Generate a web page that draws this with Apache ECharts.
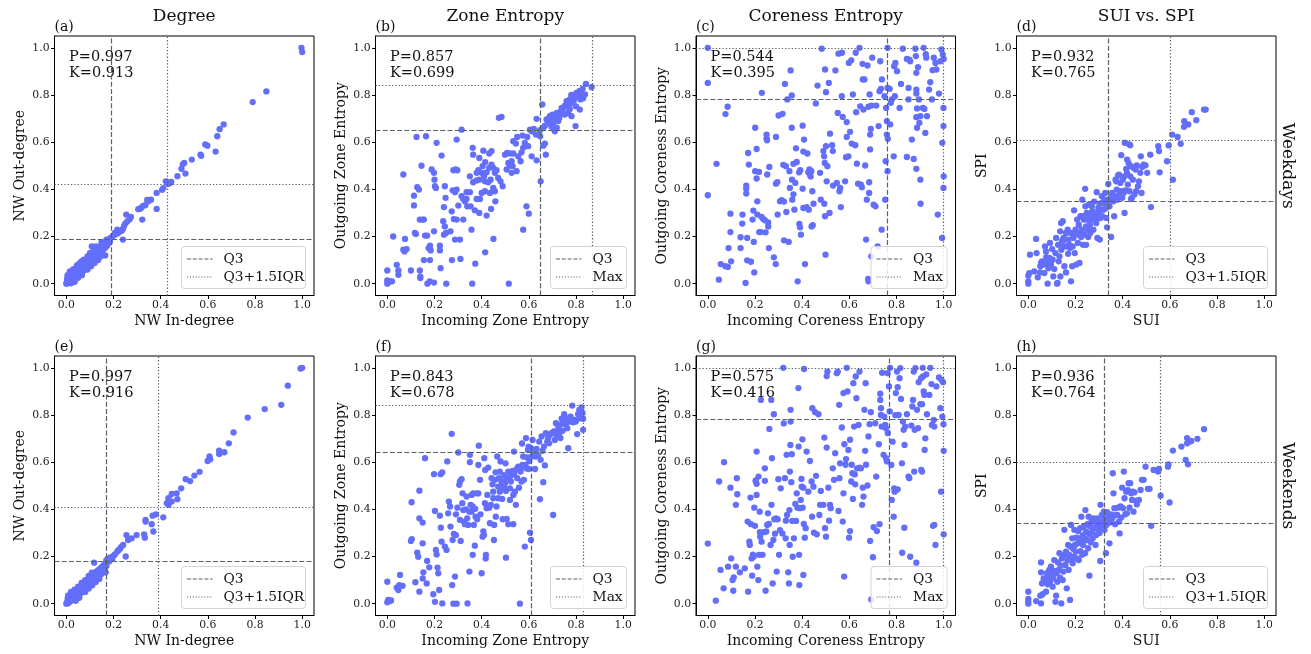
<!DOCTYPE html>
<html>
<head>
<meta charset="utf-8">
<script src="https://cdn.jsdelivr.net/npm/echarts@6/dist/echarts.min.js"></script>
<style>
html,body{margin:0;padding:0;background:#fff;}
#chart{width:1311px;height:654px;}
</style>
</head>
<body>
<div id="chart"></div>
<script>
// ---------------- DATA ----------------
const columnTitles = ['Degree', 'Zone Entropy', 'Coreness Entropy', 'SUI vs. SPI'];
const rowTitles = ['Weekdays', 'Weekends'];
const panelLabels = ['(a)', '(b)', '(c)', '(d)', '(e)', '(f)', '(g)', '(h)'];
const xNames = ['NW In-degree', 'Incoming Zone Entropy', 'Incoming Coreness Entropy', 'SUI'];
const yNames = ['NW Out-degree', 'Outgoing Zone Entropy', 'Outgoing Coreness Entropy', 'SPI'];
const pearsonP = ['0.997', '0.857', '0.544', '0.932', '0.997', '0.843', '0.575', '0.936'];
const kendallK = ['0.913', '0.699', '0.395', '0.765', '0.916', '0.678', '0.416', '0.764'];
const q3X = [0.187, 0.650, 0.761, 0.339, 0.167, 0.613, 0.772, 0.320];
const q3Y = [0.186, 0.646, 0.782, 0.349, 0.180, 0.638, 0.784, 0.335];
const upperX = [0.432, 0.869, 1.0, 0.603, 0.386, 0.832, 1.0, 0.564];
const upperY = [0.423, 0.844, 1.0, 0.615, 0.4145, 0.840, 1.0, 0.602];
const upperLabels = ['Q3+1.5IQR', 'Max', 'Max', 'Q3+1.5IQR', 'Q3+1.5IQR', 'Max', 'Max', 'Q3+1.5IQR'];
const q3Label = 'Q3';
const tickValues = [0, 0.2, 0.4, 0.6, 0.8, 1.0];

const degreeWeekdays = [
[0.997,1.0],[1.0,0.982],[0.848,0.815],[0.79,0.77],[0.667,0.675],[0.65,0.655],[0.64,0.625],[0.633,0.56],[0.589,0.59],[0.598,0.585],
[0.569,0.547],[0.572,0.542],[0.532,0.526],[0.50,0.512],[0.494,0.506],[0.488,0.487],[0.505,0.467],[0.471,0.456],[0.445,0.432],[0.44,0.427],
[0.432,0.423],[0.422,0.434],[0.427,0.43],[0.411,0.405],[0.406,0.398],[0.383,0.385],[0.383,0.317],[0.359,0.356],[0.348,0.349],[0.343,0.355],
[0.335,0.333],[0.326,0.33],[0.318,0.322],[0.312,0.317],[0.305,0.316],[0.322,0.272],[0.274,0.283],[0.268,0.272],[0.254,0.293],[0.258,0.264],
[0.25,0.255],[0.245,0.245],[0.24,0.232],[0.235,0.225],[0.24,0.187],[0.228,0.222],[0.22,0.215],[0.216,0.229],[0.21,0.21],[0.206,0.215],
[0.2,0.205],[0.196,0.2],[0.19,0.195],[0.184,0.19],[0.178,0.185],[0.17,0.187],[0.165,0.12],[0.149,0.175],[0.16,0.17],[0.155,0.16],[0.108,0.158],
[0,0],[0.002,0.006],[0.004,0.002],[0.006,0.012],[0.003,0.018],[0.008,0.004],[0.01,0.009],[0.012,0.02],[0.007,0.03],[0.014,0.012],
[0.016,0.006],[0.018,0.025],[0.02,0.016],[0.012,0.04],[0.022,0.01],[0.024,0.03],[0.026,0.02],[0.028,0.014],[0.03,0.038],[0.032,0.026],
[0.034,0.018],[0.02,0.045],[0.036,0.044],[0.038,0.032],[0.04,0.024],[0.042,0.05],[0.044,0.036],[0.046,0.028],[0.048,0.058],[0.05,0.044],
[0.052,0.034],[0.054,0.062],[0.056,0.05],[0.058,0.04],[0.06,0.07],[0.062,0.056],[0.064,0.046],[0.066,0.08],[0.068,0.062],[0.07,0.052],
[0.055,0.085],[0.072,0.072],[0.074,0.058],[0.076,0.088],[0.078,0.068],[0.08,0.06],[0.082,0.094],[0.084,0.076],[0.086,0.066],[0.088,0.1],
[0.09,0.082],[0.092,0.072],[0.094,0.105],[0.096,0.088],[0.098,0.078],[0.1,0.112],[0.102,0.095],[0.104,0.085],[0.106,0.12],[0.108,0.1],
[0.11,0.09],[0.113,0.125],[0.116,0.108],[0.118,0.098],[0.12,0.135],[0.123,0.115],[0.126,0.105],[0.128,0.14],[0.13,0.122],[0.133,0.112],
[0.136,0.148],[0.138,0.13],[0.14,0.12],[0.143,0.155],[0.146,0.138],[0.15,0.128],[0.153,0.16],[0.156,0.145],[0.16,0.165],[0.163,0.15],
[0.167,0.172],[0.172,0.16],[0.176,0.18],[0.18,0.172],[0.185,0.178],
[0.005,0.035],[0.015,0.052],[0.03,0.062],[0.045,0.078],[0.062,0.092],[0.075,0.102],[0.09,0.116],[0.1,0.13],[0.116,0.142],[0.126,0.158],
[0.09,0.06],[0.105,0.074],[0.12,0.088],[0.135,0.1],[0.05,0.025],[0.066,0.036],[0.02,0.002],[0.036,0.008],[0.145,0.115],[0.07,0.098]
];

const zoneWeekdays = [
[0,0],[0.004,0.006],[0.011,0.01],[0.02,0.01],[0,0.014],[0.17,0],[0.18,0.01],[0.198,0.005],[0.25,0],[0.36,0],[0.515,0],
[0,0.056],[0.047,0.056],[0.047,0.038],[0.04,0.08],[0.1,0.056],[0.138,0.056],[0.14,0.03],[0.14,0.024],[0.226,0.066],[0.274,0.1],
[0.31,0.105],[0.373,0.085],[0.415,0.133],[0.45,0.19],[0.155,0.1],[0.181,0.1],[0.181,0.161],[0.175,0.151],[0.184,0.141],[0.223,0.141],
[0.073,0.137],[0.068,0.144],[0.082,0.147],[0.075,0.19],[0.025,0.2],[0.117,0.215],[0.121,0.211],[0.16,0.204],[0.169,0.204],[0.198,0.222],
[0.223,0.161],[0.24,0.208],[0.249,0.215],[0.268,0.222],[0.287,0.187],[0.308,0.187],[0.357,0.229],[0.576,0.229],[0.59,0.328],[0.6,0.297],
[0.458,0.349],[0.44,0.317],
[0.113,0.373],[0.113,0.332],[0.134,0.399],[0.138,0.272],[0.15,0.272],[0.155,0.272],[0.127,0.409],[0.068,0.463],[0.145,0.5],[0.164,0.625],
[0.124,0.622],[0.209,0.597],[0.188,0.484],[0.198,0.47],[0.2,0.441],[0.202,0.413],[0.206,0.406],[0.23,0.543],[0.244,0.413],[0.247,0.364],
[0.24,0.325],[0.237,0.265],[0.244,0.243],[0.28,0.481],[0.29,0.484],[0.297,0.481],[0.294,0.611],[0.315,0.653],[0.277,0.396],[0.287,0.388],
[0.294,0.399],[0.301,0.331],[0.273,0.307],[0.282,0.274],[0.294,0.272],[0.322,0.272],[0.315,0.371],[0.322,0.359],[0.329,0.349],[0.336,0.359],
[0.336,0.388],[0.35,0.388],[0.353,0.328],[0.339,0.328],[0.35,0.455],[0.362,0.576],[0.364,0.547],[0.379,0.47],[0.386,0.481],[0.379,0.438],
[0.364,0.43],[0.39,0.441],[0.4,0.47],[0.404,0.498],[0.407,0.564],[0.39,0.533],[0.41,0.455],[0.414,0.434],[0.421,0.472],[0.432,0.491],
[0.442,0.505],[0.449,0.491],[0.456,0.47],[0.463,0.481],[0.428,0.43],[0.438,0.441],[0.449,0.406],[0.456,0.392],[0.435,0.385],[0.414,0.392],
[0.4,0.385],[0.393,0.359],[0.379,0.359],[0.371,0.311],[0.39,0.3],[0.421,0.289],[0.442,0.562],[0.432,0.552],[0.415,0.515],[0.47,0.448],
[0.48,0.434],[0.489,0.413],[0.473,0.703],[0.484,0.707],
[0.499,0.547],[0.508,0.554],[0.52,0.552],[0.534,0.552],[0.513,0.512],[0.527,0.519],[0.531,0.498],[0.52,0.501],[0.506,0.484],[0.527,0.47],
[0.548,0.477],[0.565,0.519],[0.555,0.54],[0.569,0.557],[0.576,0.576],[0.545,0.594],[0.534,0.604],[0.551,0.622],[0.573,0.628],[0.583,0.597],
[0.597,0.583],[0.612,0.54],[0.633,0.523],[0.65,0.434],[0.672,0.547],[0.661,0.585],[0.668,0.594],[0.612,0.646],[0.605,0.653],[0.621,0.656],
[0.593,0.622],[0.633,0.699],[0.63,0.632],[0.648,0.625],[0.657,0.76],
[0.675,0.696],[0.689,0.71],[0.682,0.682],[0.703,0.679],[0.696,0.665],[0.718,0.661],[0.71,0.646],[0.732,0.724],[0.743,0.738],[0.753,0.717],
[0.763,0.75],[0.774,0.741],[0.782,0.767],[0.8,0.752],[0.81,0.795],[0.819,0.781],[0.797,0.795],[0.785,0.784],[0.802,0.809],[0.814,0.816],
[0.828,0.826],[0.842,0.847],[0.866,0.833],[0.838,0.802],[0.83,0.786],[0.816,0.738],[0.798,0.668],[0.746,0.721],[0.729,0.703],[0.767,0.724],
[0.781,0.71],[0.753,0.755],[0.739,0.745],[0.718,0.724],[0.7,0.717],[0.689,0.689],[0.668,0.67],[0.661,0.661],[0.647,0.651],[0.76,0.774],
[0.774,0.781],[0.79,0.774],[0.823,0.806],[0.806,0.79],[0.77,0.76],[0.735,0.73],[0.71,0.7],[0.725,0.69],[0.795,0.8],[0.78,0.8]
];

const corenessWeekdays = [
[0,1.0],[0,0.851],[0,0.375],[0.037,0.508],[0.047,0.017],[0.055,0.083],[0.074,0.074],[0.085,0.071],[0.075,0.719],[0.084,0.75],
[0.088,0.151],[0.096,0.219],[0.096,0.297],[0.099,0.095],[0.139,0.197],[0.139,0.151],[0.147,0.293],[0.146,0.255],[0.16,0.003],[0.163,0.416],
[0.163,0.403],[0.163,0.382],[0.167,0.194],[0.167,0.099],[0.171,0.554],[0.174,0.505],[0.183,0.093],[0.19,0.272],[0.193,0.31],[0.195,0.177],
[0.197,0.048],[0.201,0.661],[0.201,0.477],[0.207,0.571],[0.207,0.446],[0.21,0.349],[0.21,0.293],[0.217,0.474],[0.218,0.219],[0.225,0.219],
[0.228,0.283],[0.229,0.809],[0.235,0.274],[0.242,0.269],[0.245,0.218],[0.249,0.632],[0.249,0.615],[0.251,0.608],[0.252,0.463],[0.256,0.26],
[0.256,0.243],[0.259,0.151],[0.261,0.495],[0.28,0.112],[0.288,0.083],[0.289,0.424],[0.289,0.622],[0.3,0.713],[0.295,0.431],[0.296,0.293],
[0.306,0.349],[0.313,0.354],[0.317,0.72],[0.32,0.504],[0.323,0.348],[0.323,0.184],[0.327,0.847],[0.331,0.498],[0.333,0.304],[0.337,0.781],
[0.343,0.177],[0.346,0.477],[0.348,0.406],[0.351,0.904],[0.356,0.798],[0.356,0.661],[0.357,0.441],[0.358,0.356],[0.363,0.508],[0.363,0.379],
[0.367,0.314],[0.371,0.427],[0.374,0.574],[0.377,0.516],[0.387,0.472],[0.388,0.253],[0.391,0.239],[0.392,0.481],[0.381,0.01],[0.395,0.208],
[0.402,0.67],[0.402,0.403],[0.405,0.56],[0.405,0.321],[0.408,0.611],[0.412,0.083],[0.419,0.325],[0.422,0.552],[0.426,0.472],[0.428,0.314],
[0.431,0.484],[0.433,0.463],[0.436,0.454],[0.439,0.477],[0.44,0.243],[0.445,0.248],[0.443,0.392],[0.448,0.339],[0.458,0.764],[0.465,0.84],
[0.476,0.47],[0.479,0.356],[0.483,0.996],[0.49,0.562],[0.493,0.54],[0.496,0.512],[0.494,0.339],[0.497,0.908],[0.497,0.286],[0.499,0.123],
[0.501,0.583],[0.501,0.812],[0.504,0.434],[0.507,0.498],[0.513,0.851],[0.516,0.3],[0.518,0.636],[0.527,0.587],[0.53,0.562],[0.531,0.416],
[0.541,0.904],[0.547,0.427],[0.551,0.724],[0.554,0.975],[0.558,0.392],[0.561,0.406],[0.564,0.325],[0.569,0.979],[0.568,0.795],[0.572,0.707],
[0.582,0.434],[0.586,0.536],[0.589,0.685],[0.589,0.622],[0.596,0.54],[0.598,0.936],[0.603,0.644],[0.608,0.947],[0.61,0.594],[0.615,0.802],
[0.625,0.587],[0.627,0.979],[0.629,0.727],[0.632,0.509],[0.637,0.424],[0.643,1.0],[0.646,0.752],[0.649,0.42],[0.653,0.409],[0.656,0.932],
[0.657,0.866],[0.66,0.738],[0.664,0.866],[0.667,0.501],[0.671,0.187],[0.674,0.356],[0.677,0.925],[0.681,0.75],[0.681,0.01],[0.68,0.02],
[0.684,0.43],[0.684,0.385],[0.686,0.802],[0.688,0.569],[0.688,0.632],[0.691,0.656],[0.693,0.116],[0.694,0.755],[0.697,0.958],[0.703,0.335],
[0.711,0.328],[0.714,0.755],[0.72,0.158],[0.724,0.668],[0.728,0.816],[0.731,0.943],[0.734,0.826],[0.737,0.229],[0.738,0.866],[0.749,0.795],
[0.752,0.356],[0.754,0.519],[0.756,0.745],[0.759,0.689],[0.759,0.632],[0.763,0.614],[0.762,0.477],[0.762,0.83],[0.762,1.0],[0.771,0.826],
[0.773,0.675],[0.776,0.767],[0.78,0.781],[0.788,0.54],[0.79,0.922],[0.793,0.795],[0.795,0.936],[0.802,0.901],[0.813,0.745],[0.819,0.847],
[0.827,0.996],[0.844,0.537],[0.844,0.953],[0.851,0.83],[0.854,0.95],[0.851,0.781],[0.858,0.943],[0.865,0.611],[0.873,0.529],[0.88,0.996],
[0.882,0.965],[0.884,0.894],[0.884,0.823],[0.884,0.806],[0.884,0.706],[0.887,0.661],[0.884,0.487],[0.887,0.743],[0.891,0.918],[0.895,0.781],
[0.897,0.682],[0.901,0.71],[0.901,0.441],[0.902,0.339],[0.912,0.745],[0.915,1.0],[0.918,0.741],[0.922,0.639],[0.924,0.973],[0.926,0.958],
[0.929,0.71],[0.938,0.823],[0.943,0.854],[0.95,0.781],[0.953,0.905],[0.958,0.958],[0.965,0.936],[0.969,0.908],[0.975,0.293],[0.98,0.806],
[0.986,0.943],[0.99,0.993],[0.993,0.194],[0.994,0.597],[0.996,0.972],[0.999,0.745],[0.999,0.668],[1.0,0.455],[0.999,0.406],[1.0,0.953]
];

const suiSpiWeekdays = [
[0,0],[0,0.01],[0,0.034],[0.004,0.045],[0.007,0.123],[0.025,0.052],[0.033,0.19],[0.04,0.027],[0.035,0.13],[0.05,0.048],
[0.051,0.074],[0.054,0.088],[0.058,0.095],[0.064,0.081],[0.068,0.045],[0.071,0.158],[0.075,0.137],[0.076,0.113],[0.079,0.088],[0.082,0.0],
[0.085,0.066],[0.089,0.109],[0.092,0.173],[0.096,0.081],[0.101,0.147],[0.103,0.102],[0.106,0.031],[0.11,0.062],[0.115,0.13],[0.118,0.194],
[0.122,0.0],[0.124,0.003],[0.126,0.165],[0.129,0.095],[0.132,0.116],[0.135,0.222],[0.136,0.031],[0.139,0.257],[0.14,0.144],[0.143,0.18],
[0.146,0.265],[0.149,0.194],[0.15,0.158],[0.153,0.074],[0.157,0.187],[0.16,0.048],[0.16,0.215],[0.163,0.158],[0.167,0.229],[0.169,0.127],
[0.171,0.187],[0.174,0.165],[0.177,0.151],[0.18,0.215],[0.181,0.01],[0.186,0.074],[0.188,0.158],[0.191,0.194],[0.194,0.311],[0.197,0.13],
[0.2,0.229],[0.203,0.208],[0.204,0.081],[0.207,0.272],[0.21,0.173],[0.214,0.25],[0.217,0.088],[0.22,0.215],[0.221,0.286],[0.224,0.198],
[0.227,0.229],[0.229,0.356],[0.231,0.286],[0.232,0.165],[0.235,0.272],[0.238,0.208],[0.241,0.402],[0.242,0.328],[0.245,0.243],[0.245,0.165],
[0.248,0.3],[0.249,0.272],[0.252,0.229],[0.254,0.198],[0.256,0.335],[0.259,0.286],[0.261,0.25],[0.263,0.215],[0.266,0.3],[0.269,0.328],
[0.271,0.272],[0.273,0.307],[0.276,0.229],[0.279,0.348],[0.282,0.279],[0.285,0.293],[0.288,0.257],[0.29,0.388],[0.293,0.194],[0.295,0.3],
[0.297,0.321],[0.299,0.279],[0.302,0.339],[0.303,0.187],[0.305,0.278],[0.309,0.314],[0.312,0.371],[0.313,0.286],[0.316,0.345],[0.319,0.314],
[0.322,0.356],[0.323,0.339],[0.326,0.385],[0.329,0.321],[0.33,0.279],[0.334,0.239],[0.337,0.339],[0.339,0.423],[0.34,0.356],[0.344,0.328],
[0.348,0.364],[0.351,0.198],[0.354,0.371],[0.356,0.385],[0.358,0.362],[0.361,0.349],[0.364,0.286],[0.367,0.371],[0.37,0.441],[0.373,0.434],
[0.375,0.399],[0.377,0.356],[0.38,0.458],[0.384,0.462],[0.387,0.378],[0.39,0.427],[0.394,0.545],[0.394,0.392],[0.398,0.364],[0.401,0.441],
[0.404,0.385],[0.407,0.455],[0.408,0.3],[0.411,0.597],[0.412,0.395],[0.415,0.487],[0.418,0.47],[0.419,0.526],[0.422,0.42],[0.425,0.512],
[0.428,0.59],[0.429,0.392],[0.432,0.455],[0.435,0.498],[0.436,0.359],[0.439,0.364],[0.443,0.441],[0.446,0.491],[0.45,0.378],[0.455,0.484],
[0.457,0.392],[0.46,0.502],[0.465,0.413],[0.469,0.434],[0.475,0.47],[0.477,0.54],[0.48,0.385],[0.483,0.495],[0.489,0.505],[0.497,0.502],
[0.504,0.47],[0.517,0.547],[0.52,0.325],[0.551,0.583],[0.554,0.562],[0.557,0.472],[0.588,0.519],[0.595,0.586],[0.61,0.632],[0.613,0.441],
[0.633,0.622],[0.646,0.593],[0.66,0.665],[0.661,0.689],[0.678,0.675],[0.693,0.727],[0.712,0.693],[0.745,0.738],[0.752,0.738],[0.409,0.597],
[0.432,0.587]
];

const degreeWeekends = [
[0.993,0.997],[1.0,1.0],[0.939,0.924],[0.911,0.843],[0.841,0.825],[0.769,0.789],[0.709,0.726],[0.689,0.68],[0.67,0.642],[0.648,0.649],
[0.648,0.635],[0.607,0.624],[0.61,0.612],[0.599,0.605],[0.565,0.559],[0.543,0.543],[0.525,0.52],[0.506,0.528],[0.487,0.489],[0.468,0.468],
[0.447,0.465],[0.471,0.443],[0.433,0.447],[0.426,0.426],[0.433,0.419],[0.447,0.433],[0.411,0.366],[0.38,0.379],[0.366,0.373],[0.369,0.306],
[0.362,0.337],[0.336,0.355],[0.336,0.348],[0.33,0.294],[0.333,0.28],[0.298,0.291],[0.277,0.277],[0.255,0.291],[0.262,0.27],[0.252,0.2],
[0.241,0.249],[0.227,0.232],[0.216,0.221],[0.206,0.209],[0.199,0.202],[0.189,0.197],[0.177,0.192],[0.17,0.185],[0.167,0.133],[0.118,0.174],
[0.232,0.24],[0.22,0.226],[0.195,0.19],[0.183,0.18],
[0,0],[0.003,0.004],[0.005,0.01],[0.008,0.002],[0.01,0.015],[0.006,0.022],[0.012,0.006],[0.015,0.018],[0.018,0.01],[0.02,0.026],
[0.022,0.015],[0.014,0.032],[0.025,0.02],[0.027,0.034],[0.03,0.024],[0.032,0.016],[0.034,0.04],[0.036,0.03],[0.038,0.022],[0.025,0.045],
[0.04,0.048],[0.042,0.035],[0.044,0.028],[0.046,0.055],[0.048,0.042],[0.05,0.034],[0.052,0.06],[0.054,0.048],[0.056,0.04],[0.058,0.068],
[0.06,0.054],[0.062,0.045],[0.064,0.075],[0.066,0.06],[0.068,0.05],[0.07,0.082],[0.072,0.066],[0.074,0.056],[0.076,0.09],[0.078,0.072],
[0.08,0.062],[0.082,0.096],[0.084,0.078],[0.086,0.068],[0.088,0.1],[0.09,0.085],[0.093,0.075],[0.095,0.108],[0.098,0.09],[0.1,0.08],
[0.103,0.115],[0.106,0.097],[0.108,0.088],[0.11,0.122],[0.113,0.104],[0.116,0.095],[0.118,0.128],[0.121,0.112],[0.124,0.102],[0.126,0.135],
[0.129,0.118],[0.132,0.11],[0.135,0.142],[0.138,0.126],[0.141,0.118],[0.144,0.15],[0.147,0.134],[0.15,0.127],[0.153,0.158],[0.156,0.142],
[0.16,0.165],[0.163,0.15],[0.166,0.172],[0.17,0.16],
[0.008,0.035],[0.02,0.05],[0.035,0.06],[0.05,0.072],[0.065,0.088],[0.08,0.1],[0.095,0.118],[0.108,0.132],[0.08,0.05],[0.095,0.064],
[0.11,0.078],[0.04,0.012],[0.055,0.025],[0.125,0.092],[0.14,0.105]
];

const zoneWeekends = [
[0,0.006],[0.004,0.016],[0.011,0.011],[0,0.093],[0.016,0.014],[0.04,0.068],[0.047,0.058],[0.054,0.122],[0.065,0.076],[0.051,0.079],
[0.1,0.266],[0.103,0.43],[0.104,0.274],[0.119,0.091],[0.127,0.216],[0.131,0.199],[0.136,0.362],[0.136,0.479],[0.136,0.051],[0.15,0.344],
[0.15,0.256],[0.15,0.107],[0.153,0.133],[0.16,0.617],[0.167,0.086],[0.169,0.181],[0.178,0.154],[0.195,0.04],[0.198,0.549],[0.202,0.393],
[0.202,0.008],[0.206,0.228],[0.209,0.209],[0.213,0.153],[0.216,0.129],[0.22,0.058],[0.223,0.373],[0.226,0.549],[0.227,0.322],[0.23,0.263],
[0.233,0.001],[0.233,0.557],[0.244,0.242],[0.251,0.228],[0.254,0.603],[0.258,0.383],[0.261,0.433],[0.266,0.412],[0.268,0.327],[0.273,0.72],
[0.275,0.079],[0.277,0.27],[0.28,0.0],[0.282,0.296],[0.287,0.115],[0.291,0.291],[0.291,0.379],[0.294,0.0],[0.297,0.407],[0.301,0.641],
[0.305,0.504],[0.308,0.518],[0.308,0.355],[0.311,0.266],[0.315,0.528],[0.318,0.426],[0.319,0.468],[0.322,0.397],[0.325,0.348],[0.329,0.337],
[0.333,0.4],[0.336,0.454],[0.339,0.362],[0.34,0.001],[0.343,0.334],[0.348,0.136],[0.348,0.39],[0.35,0.631],[0.35,0.6],[0.353,0.419],
[0.357,0.39],[0.357,0.461],[0.362,0.412],[0.362,0.207],[0.364,0.468],[0.367,0.334],[0.371,0.246],[0.373,0.402],[0.374,0.369],[0.379,0.468],
[0.381,0.358],[0.386,0.468],[0.386,0.588],[0.388,0.67],[0.393,0.525],[0.395,0.379],[0.4,0.129],[0.404,0.284],[0.407,0.306],[0.41,0.291],
[0.411,0.617],[0.414,0.426],[0.415,0.567],[0.417,0.192],[0.418,0.207],[0.421,0.405],[0.424,0.461],[0.428,0.577],[0.432,0.407],[0.435,0.341],
[0.439,0.419],[0.442,0.532],[0.446,0.506],[0.449,0.475],[0.449,0.447],[0.452,0.27],[0.453,0.334],[0.456,0.525],[0.459,0.557],[0.46,0.369],
[0.463,0.412],[0.466,0.624],[0.47,0.496],[0.47,0.447],[0.473,0.532],[0.477,0.56],[0.477,0.475],[0.48,0.603],[0.482,0.496],[0.484,0.518],
[0.487,0.444],[0.489,0.358],[0.492,0.518],[0.494,0.545],[0.497,0.489],[0.499,0.511],[0.501,0.595],[0.503,0.478],[0.503,0.195],[0.506,0.359],
[0.508,0.535],[0.513,0.56],[0.513,0.337],[0.516,0.532],[0.52,0.44],[0.52,0.489],[0.524,0.518],[0.527,0.546],[0.531,0.563],[0.534,0.337],
[0.534,0.461],[0.537,0.645],[0.538,0.549],[0.541,0.475],[0.545,0.419],[0.548,0.57],[0.551,0.532],[0.552,0.574],[0.555,0.581],[0.558,0.492],
[0.562,0.0],[0.562,0.574],[0.565,0.56],[0.569,0.518],[0.571,0.679],[0.573,0.588],[0.576,0.624],[0.579,0.525],[0.583,0.242],[0.586,0.588],
[0.588,0.702],[0.589,0.574],[0.593,0.62],[0.596,0.652],[0.599,0.666],[0.599,0.571],[0.602,0.605],[0.605,0.301],[0.609,0.27],[0.609,0.659],
[0.612,0.624],[0.616,0.694],[0.619,0.645],[0.626,0.571],[0.629,0.624],[0.633,0.656],[0.64,0.628],[0.644,0.687],[0.647,0.443],[0.65,0.61],
[0.654,0.709],[0.658,0.648],[0.661,0.515],[0.664,0.666],[0.668,0.586],[0.672,0.723],[0.678,0.687],[0.682,0.702],[0.686,0.68],[0.689,0.716],
[0.696,0.723],[0.703,0.376],[0.706,0.73],[0.71,0.694],[0.715,0.765],[0.718,0.709],[0.725,0.744],[0.729,0.723],[0.732,0.758],[0.734,0.702],
[0.739,0.784],[0.743,0.733],[0.746,0.769],[0.75,0.803],[0.754,0.779],[0.757,0.758],[0.763,0.744],[0.767,0.659],[0.77,0.786],[0.774,0.772],
[0.777,0.793],[0.784,0.84],[0.788,0.769],[0.795,0.779],[0.799,0.772],[0.805,0.719],[0.809,0.803],[0.814,0.822],[0.816,0.786],[0.819,0.812],
[0.823,0.832],[0.828,0.808],[0.83,0.784],[0.83,0.737]
];

const corenessWeekends = [
[0,0.255],[0.034,0.013],[0.048,0.518],[0.054,0.143],[0.067,0.065],[0.069,0.6],[0.086,0.157],[0.096,0.492],[0.099,0.192],[0.105,0.1],
[0.108,0.055],[0.11,0.112],[0.119,0.157],[0.119,0.419],[0.123,0.532],[0.125,0.464],[0.136,0.133],[0.157,0.15],[0.169,0.348],[0.171,0.051],
[0.176,0.263],[0.178,0.249],[0.181,0.45],[0.183,0.337],[0.186,0.192],[0.188,0.119],[0.191,0.208],[0.194,0.199],[0.197,0.407],[0.2,0.33],
[0.203,0.523],[0.204,0.518],[0.207,0.508],[0.207,0.461],[0.207,0.645],[0.21,0.157],[0.214,0.1],[0.215,0.539],[0.217,0.207],[0.22,0.39],
[0.221,0.303],[0.222,0.284],[0.225,0.864],[0.228,0.263],[0.232,0.207],[0.238,0.303],[0.242,0.574],[0.242,0.521],[0.245,0.055],[0.248,0.306],
[0.252,0.334],[0.255,0.383],[0.259,0.338],[0.261,0.741],[0.266,0.249],[0.269,0.864],[0.27,0.419],[0.272,0.617],[0.275,0.086],[0.278,0.27],
[0.28,0.803],[0.282,0.358],[0.285,0.297],[0.289,0.362],[0.292,0.136],[0.296,0.358],[0.299,0.528],[0.302,0.207],[0.306,0.312],[0.309,0.489],
[0.316,0.298],[0.32,1.0],[0.322,0.764],[0.327,0.532],[0.33,0.277],[0.331,0.352],[0.334,0.631],[0.336,0.376],[0.341,0.133],[0.344,0.086],
[0.346,0.397],[0.347,0.249],[0.348,0.56],[0.35,0.673],[0.351,0.772],[0.351,0.822],[0.354,0.515],[0.356,0.634],[0.358,0.351],[0.36,0.199],
[0.365,0.277],[0.371,0.423],[0.374,0.351],[0.377,0.468],[0.38,0.407],[0.384,0.914],[0.385,0.666],[0.387,0.207],[0.388,0.079],[0.391,0.405],
[0.394,0.44],[0.397,0.529],[0.398,0.496],[0.401,0.697],[0.402,0.407],[0.405,0.492],[0.405,0.122],[0.407,0.338],[0.408,0.995],[0.411,0.28],
[0.415,0.32],[0.419,0.645],[0.426,0.475],[0.433,0.605],[0.44,0.518],[0.442,0.369],[0.443,0.829],[0.448,0.496],[0.45,0.301],[0.455,0.812],
[0.459,0.542],[0.462,0.294],[0.469,0.803],[0.473,0.376],[0.476,0.419],[0.479,0.478],[0.49,0.419],[0.494,0.704],[0.497,0.32],[0.501,0.284],
[0.504,0.662],[0.504,0.965],[0.507,0.984],[0.511,0.492],[0.514,0.352],[0.518,0.419],[0.521,0.405],[0.53,0.574],[0.535,0.525],[0.54,0.638],
[0.547,0.977],[0.551,0.984],[0.554,0.393],[0.558,0.532],[0.557,0.843],[0.561,0.595],[0.568,0.747],[0.572,0.348],[0.575,0.468],[0.575,0.893],
[0.578,0.115],[0.579,0.676],[0.584,0.589],[0.586,0.613],[0.589,1.0],[0.592,0.9],[0.596,0.652],[0.599,0.28],[0.603,0.308],[0.603,0.695],
[0.608,0.518],[0.61,0.589],[0.613,0.553],[0.615,0.444],[0.617,0.935],[0.62,0.751],[0.623,0.548],[0.625,0.506],[0.627,0.963],[0.63,0.871],
[0.633,0.574],[0.639,0.758],[0.643,0.984],[0.644,0.577],[0.649,0.574],[0.654,0.419],[0.657,0.492],[0.66,0.454],[0.664,0.822],[0.667,0.648],
[0.669,0.935],[0.671,0.589],[0.677,0.501],[0.681,0.709],[0.686,0.761],[0.688,0.266],[0.691,0.812],[0.693,0.018],[0.7,0.197],[0.703,0.324],
[0.71,0.765],[0.714,0.539],[0.717,0.308],[0.725,0.676],[0.728,0.337],[0.731,0.89],[0.731,0.864],[0.734,0.829],[0.734,0.8],[0.737,0.751],
[0.739,0.979],[0.745,0.631],[0.748,0.793],[0.752,0.758],[0.755,0.744],[0.756,0.617],[0.759,0.603],[0.762,0.977],[0.763,0.723],[0.768,0.921],
[0.771,0.815],[0.773,1.0],[0.778,0.588],[0.78,0.44],[0.783,0.687],[0.788,0.369],[0.79,0.489],[0.792,0.475],[0.795,0.799],[0.797,0.893],
[0.802,0.984],[0.805,0.485],[0.805,0.918],[0.809,0.8],[0.813,0.956],[0.816,0.999],[0.819,0.868],[0.823,0.595],[0.824,0.216],[0.827,0.772],
[0.83,0.737],[0.833,0.322],[0.834,0.673],[0.837,0.751],[0.844,0.803],[0.851,0.539],[0.854,0.532],[0.858,0.199],[0.863,0.755],[0.867,0.836],
[0.87,0.864],[0.873,0.984],[0.875,0.56],[0.877,0.737],[0.88,0.999],[0.884,0.174],[0.887,0.822],[0.891,0.744],[0.894,0.939],[0.901,0.846],
[0.904,0.956],[0.905,0.567],[0.908,0.56],[0.908,0.846],[0.911,1.0],[0.912,0.963],[0.915,0.9],[0.918,0.885],[0.919,0.652],[0.922,0.701],
[0.926,0.972],[0.929,0.803],[0.939,0.885],[0.943,1.0],[0.948,0.931],[0.95,0.758],[0.955,0.33],[0.958,0.779],[0.96,0.334],[0.965,0.249],
[0.969,0.921],[0.98,0.959],[0.986,0.829],[0.989,0.475],[0.99,0.949],[0.994,0.793],[0.997,0.939],[0.999,0.761],[1.0,0.648],[1.0,0.294],
[0.96,0.751]
];

const suiSpiWeekends = [
[0,0],[0,0.02],[0,0.051],[0,0.008],[0.033,0.011],[0.051,0.034],[0.054,0.001],[0.054,0.175],[0.054,0.133],[0.058,0.086],
[0.061,0.04],[0.065,0.107],[0.068,0.093],[0.075,0.051],[0.079,0.129],[0.082,0.082],[0.086,0.107],[0.089,0.143],[0.092,0.093],[0.096,0.157],
[0.101,0.122],[0.103,0.072],[0.106,0.107],[0.109,0.139],[0.11,0.185],[0.115,0.008],[0.118,0.034],[0.12,0.129],[0.123,0.093],[0.126,0.175],
[0.129,0.143],[0.132,0.214],[0.135,0.11],[0.137,0.161],[0.14,0.001],[0.143,0.192],[0.146,0.1],[0.149,0.136],[0.153,0.313],[0.154,0.207],
[0.157,0.164],[0.16,0.221],[0.163,0.065],[0.166,0.185],[0.169,0.249],[0.171,0.143],[0.174,0.207],[0.177,0.016],[0.18,0.242],[0.181,0.334],
[0.183,0.185],[0.186,0.277],[0.188,0.171],[0.191,0.232],[0.194,0.199],[0.195,0.313],[0.198,0.249],[0.201,0.221],[0.203,0.28],[0.205,0.192],
[0.208,0.255],[0.211,0.308],[0.214,0.185],[0.217,0.277],[0.22,0.32],[0.221,0.223],[0.224,0.263],[0.225,0.369],[0.228,0.207],[0.231,0.291],
[0.232,0.249],[0.235,0.327],[0.238,0.277],[0.241,0.214],[0.242,0.397],[0.245,0.305],[0.248,0.27],[0.251,0.337],[0.254,0.235],[0.256,0.369],
[0.259,0.294],[0.259,0.119],[0.262,0.327],[0.265,0.26],[0.268,0.348],[0.271,0.305],[0.273,0.277],[0.276,0.362],[0.279,0.32],[0.282,0.348],
[0.285,0.249],[0.288,0.291],[0.29,0.337],[0.293,0.362],[0.296,0.317],[0.299,0.348],[0.302,0.3],[0.305,0.181],[0.306,0.419],[0.309,0.334],
[0.312,0.376],[0.314,0.32],[0.317,0.351],[0.32,0.39],[0.323,0.313],[0.326,0.362],[0.329,0.214],[0.331,0.334],[0.334,0.388],[0.337,0.351],
[0.34,0.369],[0.344,0.256],[0.347,0.344],[0.351,0.379],[0.356,0.362],[0.358,0.553],[0.361,0.468],[0.365,0.405],[0.368,0.337],[0.373,0.376],
[0.377,0.376],[0.38,0.407],[0.384,0.348],[0.387,0.298],[0.391,0.412],[0.394,0.365],[0.398,0.492],[0.401,0.405],[0.405,0.56],[0.408,0.447],
[0.411,0.379],[0.415,0.475],[0.418,0.383],[0.422,0.481],[0.425,0.511],[0.429,0.407],[0.432,0.511],[0.436,0.468],[0.44,0.44],[0.443,0.475],
[0.446,0.39],[0.45,0.472],[0.457,0.436],[0.46,0.421],[0.469,0.44],[0.476,0.482],[0.482,0.525],[0.489,0.525],[0.497,0.581],[0.507,0.487],
[0.514,0.487],[0.521,0.33],[0.531,0.567],[0.55,0.56],[0.554,0.571],[0.561,0.458],[0.592,0.581],[0.594,0.591],[0.599,0.429],[0.613,0.649],
[0.649,0.666],[0.667,0.61],[0.673,0.68],[0.673,0.702],[0.677,0.591],[0.684,0.687],[0.691,0.69],[0.717,0.699],[0.745,0.74]
];

// ---------------- LAYOUT ----------------
const panels = [degreeWeekdays, zoneWeekdays, corenessWeekdays, suiSpiWeekdays,
                degreeWeekends, zoneWeekends, corenessWeekends, suiSpiWeekends];
const GL = [54.5, 375.5, 696, 1016.5];
const GT = [36, 356];
const GW = 259.5, GH = 259.5;
const FONT = "'DejaVu Serif', serif";
const DOT = '#636EFA';
const REF = '#56616c';
const DASH = [5, 2.2];
const DOTTED = [1.3, 2];

const grids = [], xAxes = [], yAxes = [], series = [], graphics = [];

panels.forEach((data, i) => {
  const r = Math.floor(i / 4), c = i % 4;
  grids.push({left: GL[c], top: GT[r], width: GW, height: GH, show: true,
    borderColor: '#000', borderWidth: 1, backgroundColor: 'transparent'});
  const axisCommon = {
    min: -0.05, max: 1.05, gridIndex: i, splitLine: {show: false},
    axisLine: {show: true, onZero: false, lineStyle: {color: '#000', width: 1}},
    axisTick: {show: true, inside: false, length: 3.5, customValues: tickValues, lineStyle: {color: '#000'}},
    axisLabel: {customValues: tickValues, formatter: v => Number(v).toFixed(1),
      fontFamily: 'DejaVu Serif', fontSize: 10.8, color: '#222'},
    nameLocation: 'middle', nameTextStyle: {fontFamily: 'DejaVu Serif', fontSize: 14, color: '#111'}
  };
  xAxes.push(Object.assign({}, axisCommon, {type: 'value', name: xNames[c], nameGap: 19,
    axisLabel: Object.assign({}, axisCommon.axisLabel, {margin: 4})}));
  yAxes.push(Object.assign({}, axisCommon, {type: 'value', name: yNames[c], nameGap: 27,
    axisLabel: Object.assign({}, axisCommon.axisLabel, {margin: 5})}));
  series.push({
    type: 'scatter', xAxisIndex: i, yAxisIndex: i, data: data,
    symbolSize: 6.3, itemStyle: {color: DOT, opacity: 1}, silent: true, z: 2,
    markLine: {
      silent: true, symbol: 'none', label: {show: false}, animation: false, z: 3,
      data: [
        {xAxis: q3X[i], lineStyle: {color: REF, width: 1.2, type: DASH}},
        {yAxis: q3Y[i], lineStyle: {color: REF, width: 1.2, type: DASH}},
        {xAxis: upperX[i], lineStyle: {color: REF, width: 1.2, type: DOTTED}},
        {yAxis: upperY[i], lineStyle: {color: REF, width: 1.2, type: DOTTED}}
      ]
    }
  });

  graphics.push({type: 'text', x: GL[c], y: GT[r] - 9,
    style: {text: panelLabels[i], font: '14px ' + FONT, fill: '#111', align: 'left', verticalAlign: 'middle'}});
  graphics.push({type: 'text', x: GL[c] + 14.5, y: GT[r] + 21,
    style: {text: 'P=' + pearsonP[i], font: '14.5px ' + FONT, fill: '#111', align: 'left', verticalAlign: 'middle'}});
  graphics.push({type: 'text', x: GL[c] + 14.5, y: GT[r] + 37,
    style: {text: 'K=' + kendallK[i], font: '14.5px ' + FONT, fill: '#111', align: 'left', verticalAlign: 'middle'}});

  const lw = upperLabels[i] === 'Max' ? 76 : 124;
  const lh = 42;
  const lx = GL[c] + GW - 8.5 - lw;
  const ly = GT[r] + GH - 7 - lh;
  graphics.push({type: 'rect', shape: {x: lx, y: ly, width: lw, height: lh, r: 3}, z: 10,
    style: {fill: 'rgba(255,255,255,0.85)', stroke: '#d4d4d4', lineWidth: 1}});
  graphics.push({type: 'line', shape: {x1: lx + 5.5, y1: ly + 12.5, x2: lx + 31, y2: ly + 12.5}, z: 11,
    style: {stroke: REF, lineWidth: 1.1, lineDash: [4, 1.8]}});
  graphics.push({type: 'line', shape: {x1: lx + 5.5, y1: ly + 30.5, x2: lx + 31, y2: ly + 30.5}, z: 11,
    style: {stroke: REF, lineWidth: 1.1, lineDash: [1.1, 1.8]}});
  graphics.push({type: 'text', x: lx + 42, y: ly + 12.5, z: 11,
    style: {text: q3Label, font: '13.8px ' + FONT, fill: '#111', align: 'left', verticalAlign: 'middle'}});
  graphics.push({type: 'text', x: lx + 42, y: ly + 30.5, z: 11,
    style: {text: upperLabels[i], font: '13.8px ' + FONT, fill: '#111', align: 'left', verticalAlign: 'middle'}});
});

columnTitles.forEach((t, c) => {
  graphics.push({type: 'text', x: GL[c] + GW / 2, y: 16.5,
    style: {text: t, font: '17px ' + FONT, fill: '#111', align: 'center', verticalAlign: 'middle'}});
});
rowTitles.forEach((t, r) => {
  graphics.push({type: 'text', x: 1287, y: GT[r] + GH / 2, rotation: -Math.PI / 2,
    style: {text: t, font: '17px ' + FONT, fill: '#111', align: 'center', verticalAlign: 'middle'}});
});

const chart = echarts.init(document.getElementById('chart'), null, {renderer: 'canvas'});
chart.setOption({
  animation: false,
  backgroundColor: '#fff',
  grid: grids, xAxis: xAxes, yAxis: yAxes, series: series,
  graphic: graphics
});
</script>
</body>
</html>
